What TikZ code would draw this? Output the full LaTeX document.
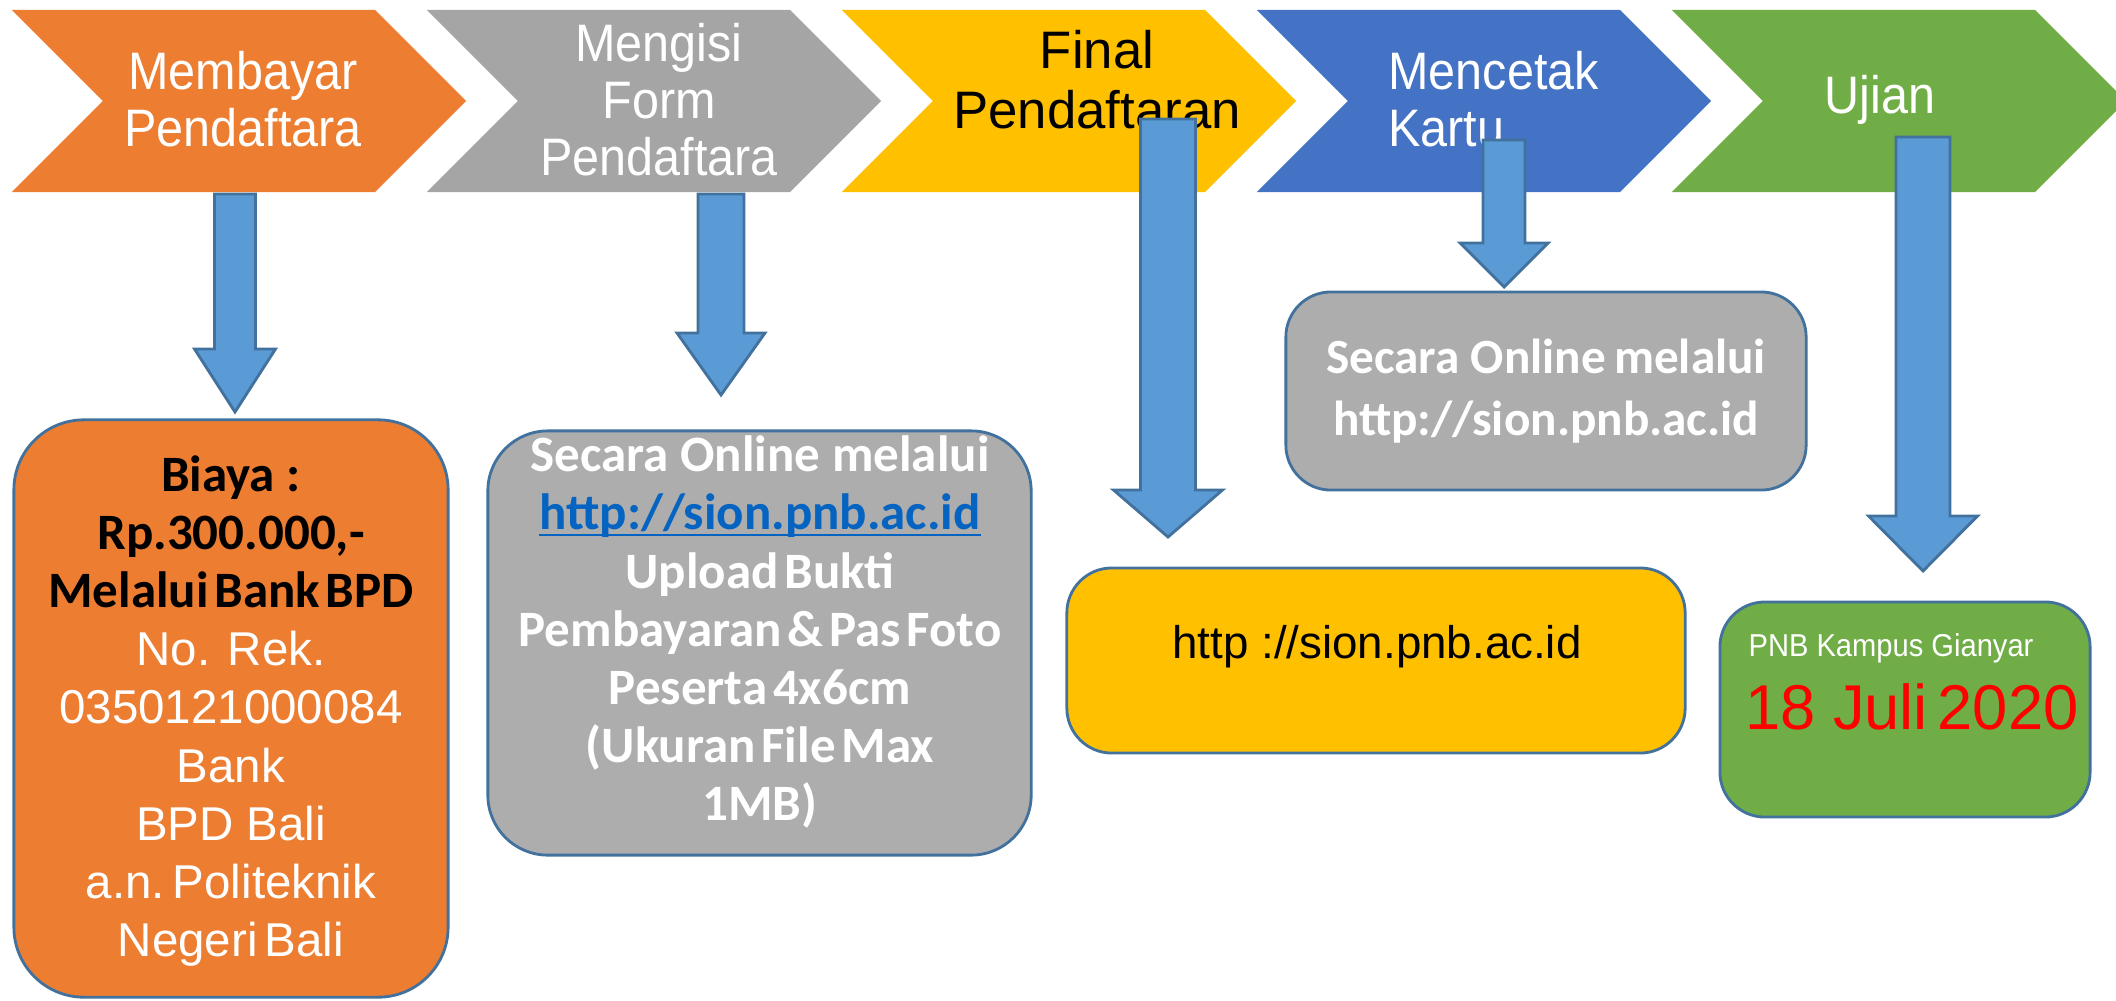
\documentclass[tikz,border=0pt]{standalone}
\usepackage{fontspec}
\setmainfont{Liberation Sans}
\newfontfamily\chevfont[FakeStretch=0.92]{Liberation Sans}
\newfontfamily\narrowfont[WordSpace=0.55]{Liberation Sans}
\newfontfamily\boxfont[WordSpace=0.5]{Carlito}
\usetikzlibrary{shapes.symbols}
\usetikzlibrary{calc}
\definecolor{cOrange}{HTML}{ED7D31}
\definecolor{cGray}{HTML}{A5A5A5}
\definecolor{cBoxGray}{HTML}{ADADAD}
\definecolor{cYellow}{HTML}{FFC000}
\definecolor{cBlue}{HTML}{4472C4}
\definecolor{cGreen}{HTML}{70AD47}
\definecolor{cArrow}{HTML}{5B9BD5}
\definecolor{cEdge}{HTML}{41719C}
\definecolor{cLink}{HTML}{0563C1}
\definecolor{cRed}{HTML}{FF0000}
\newcommand{\wsp}{\hspace{0.12em} }
\tikzstyle{chevron}=[signal, signal from=west, signal to=east, signal pointer angle=90, inner sep=0pt, minimum width=4.54cm, minimum height=1.82cm]
\tikzstyle{chevtext}=[text=white, align=center, font=\chevfont\fontsize{15}{16.2}\selectfont]
\tikzstyle{box}=[draw=cEdge, line width=0.8pt, rounded corners=0.45cm, inner sep=0pt]
\tikzstyle{boxtext}=[text=white, align=center, font=\boxfont\bfseries\fontsize{14.5}{16.5}\selectfont]
\tikzstyle{barrow}=[fill=cArrow, draw=cEdge, line width=0.8pt]
% block arrow: top, tip, shaft half width, head half width, head length (px)
\newcommand{\blockarrow}[5]{%
  \draw[barrow] let \p1=(#1), \p2=(#2) in
    (\x1-#3*0.01cm,\y1) -- (\x1-#3*0.01cm,\y2+#5*0.01cm) -- (\x1-#4*0.01cm,\y2+#5*0.01cm)
    -- (\x2,\y2) -- (\x1+#4*0.01cm,\y2+#5*0.01cm) -- (\x1+#3*0.01cm,\y2+#5*0.01cm)
    -- (\x1+#3*0.01cm,\y1) -- cycle;}

\begin{document}
\begin{tikzpicture}[x=0.01cm, y=-0.01cm]
        \useasboundingbox (0,0) rectangle (2116,1000);
        % steps
        \node[chevron, fill=cOrange] (C1) at (239,101) {};
        \node[chevron, fill=cGray] (C2) at (654,101) {};
        \node[chevron, fill=cYellow] (C3) at (1069,101) {};
        \node[chevron, fill=cBlue] (C4) at (1484,101) {};
        \node[chevron, fill=cGreen] (C5) at (1899,101) {};
        \node[chevtext] (T1) at (243,99) {Membayar\\Pendaftara};
        \node[chevtext] (T2) at (659,100) {Mengisi\\Form\\Pendaftara};
        \node[chevtext, text=black, font=\fontsize{15}{17}\selectfont] (T3) at (1097,80) {Final\\Pendaftaran};
        \node[chevtext, align=left, anchor=west] (T4) at (1376,99) {Mencetak\\Kartu};
        \node[chevtext] (T5) at (1880,100) {Ujian};
        % boxes
        \node[box, fill=cOrange, rounded corners=0.7cm, minimum width=4.34cm, minimum height=5.77cm] (B1) at (231,708.5) {};
        \node[box, fill=cBoxGray, rounded corners=0.6cm, minimum width=5.43cm, minimum height=4.24cm] (B2) at (759.5,643) {};
        \node[box, fill=cBoxGray, minimum width=5.2cm, minimum height=1.98cm] (B3) at (1546,391) {};
        \node[box, fill=cYellow, minimum width=6.18cm, minimum height=1.85cm] (B4) at (1376,660.5) {};
        \node[box, fill=cGreen, minimum width=3.7cm, minimum height=2.15cm] (B5) at (1905,709.5) {};
        \node[boxtext, font=\narrowfont\fontsize{13.5}{16.5}\selectfont] (L1) at (231,711) {%
            {\fontsize{14.5}{16.5}\boxfont\bfseries\color{black}Biaya\wsp:}\\
            {\fontsize{14.5}{16.5}\boxfont\bfseries\color{black}Rp.300.000,-}\\
            {\fontsize{14.5}{16.5}\boxfont\bfseries\color{black}Melalui Bank BPD}\\
            No.\wsp Rek.\\0350121000084\\Bank\\BPD\wsp Bali\\a.n.\,Politeknik\\Negeri Bali};
        \node[boxtext] (L2) at (760,632) {Secara\wsp Online\wsp melalui\\
            {\color{cLink}\underline{\smash{http://sion.pnb.ac.id}}}\\Upload Bukti\\
            Pembayaran \& Pas Foto\\Peserta 4x6cm\\(Ukuran File Max\\1MB)};
        \node[boxtext, font=\boxfont\bfseries\fontsize{14}{17.6}\selectfont] (L3) at (1546,391) {Secara\wsp Online\,melalui\\http://sion.pnb.ac.id};
        \node[font=\fontsize{13}{15}\selectfont] (L4) at (1377,647) {http ://sion.pnb.ac.id};
        \node[text=white, font=\chevfont\fontsize{9}{10}\selectfont] (L5) at (1891,648) {PNB Kampus Gianyar};
        \node[text=cRed, font=\narrowfont\fontsize{18}{20}\selectfont] (D5) at (1912,707) {18\wsp Juli 2020};
        % arrows
        \coordinate (A1top) at (235,194);
        \coordinate (A1tip) at (235,412);
        \coordinate (A2top) at (721,194);
        \coordinate (A2tip) at (721,395);
        \coordinate (A3top) at (1168,119);
        \coordinate (A3tip) at (1168,537);
        \coordinate (A4top) at (1504,140);
        \coordinate (A4tip) at (1504,287);
        \coordinate (A5top) at (1923,137);
        \coordinate (A5tip) at (1923,571);
        \blockarrow{A1top}{A1tip}{20.5}{40.5}{63}
        \blockarrow{A2top}{A2tip}{23}{44}{62}
        \blockarrow{A3top}{A3tip}{27.5}{54.5}{47}
        \blockarrow{A4top}{A4tip}{21}{44}{44}
        \blockarrow{A5top}{A5tip}{27}{54.5}{55}
\end{tikzpicture}
\end{document}
